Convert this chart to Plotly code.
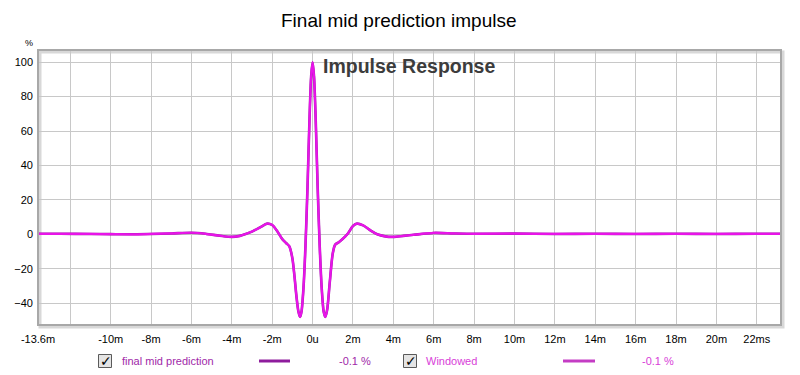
import plotly.graph_objects as go

# ---- data ----
time_ms = [-13.6, -12.5, -11.0, -10.0, -9.0, -8.0, -7.0, -6.0, -5.3, -4.6, -4.0, -3.6,
           -3.35, -3.0, -2.6, -2.25, -2.0, -1.75, -1.5, -1.3, -1.15, -1.0, -0.9, -0.8,
           -0.7, -0.62, -0.55, -0.45, -0.35, -0.25, -0.15, -0.07, 0.0, 0.07, 0.15,
           0.25, 0.35, 0.45, 0.55, 0.63, 0.72, 0.85, 1.0, 1.12, 1.3, 1.5, 1.75, 2.0,
           2.2, 2.5, 2.9, 3.2, 3.6, 4.0, 4.5, 5.0, 6.0, 7.0, 8.0, 10.0, 12.0, 14.0,
           16.0, 18.0, 20.0, 22.0, 23.2]
final_mid_pct = [0.3, 0.3, 0.2, 0.1, 0.0, 0.2, 0.5, 0.9, 0.3, -0.8, -1.5, -0.9,
                 0.0, 1.6, 4.0, 6.2, 5.4, 1.8, -2.8, -5.2, -7.0, -14.0, -24.0, -36.0,
                 -45.0, -48.0, -45.0, -31.0, -6.0, 28.0, 68.0, 92.0, 100.0, 92.0, 68.0,
                 28.0, -6.0, -31.0, -45.0, -48.0, -44.0, -28.0, -11.0, -6.0, -4.6, -2.6, 0.5, 4.8,
                 6.2, 5.2, 2.0, 0.0, -1.2, -1.5, -0.9, -0.3, 0.8, 0.5, 0.3, 0.4, 0.2, 0.3,
                 0.2, 0.3, 0.2, 0.3, 0.3]
windowed_pct = list(final_mid_pct)

x_tickvals = [-13.6, -12, -10, -8, -6, -4, -2, 0, 2, 4, 6, 8, 10, 12, 14, 16, 18, 20, 22]
x_ticktext = ["-13.6m", "", "-10m", "-8m", "-6m", "-4m", "-2m", "0u", "2m", "4m", "6m",
              "8m", "10m", "12m", "14m", "16m", "18m", "20m", "22ms"]
y_tickvals = [-40, -20, 0, 20, 40, 60, 80, 100]

series_names = ["final mid prediction", "Windowed"]
series_colors = ["#9a1ea6", "#e814e8"]
legend_line_colors = ["#8e1c9c", "#c43cc4"]
legend_text_colors = ["#a028a8", "#d840d8"]
legend_values = ["-0.1 %", "-0.1 %"]

# ---- figure ----
W, H = 800, 375
L, R, T, B = 38, 781, 50, 325


def px(x):
    return (x - L) / (R - L)


def py(y):
    return (B - y) / (B - T)


fig = go.Figure()
fig.add_trace(go.Scatter(x=time_ms, y=final_mid_pct, mode="lines",
                         line=dict(color=series_colors[0], width=2.6, shape="spline", smoothing=0.8),
                         name=series_names[0], hoverinfo="skip"))
fig.add_trace(go.Scatter(x=time_ms, y=windowed_pct, mode="lines",
                         line=dict(color=series_colors[1], width=2.2, shape="spline", smoothing=0.8),
                         name=series_names[1], hoverinfo="skip"))

axis_font = dict(family="Liberation Sans, Arial, sans-serif", size=11, color="#000000")
fig.update_xaxes(range=[-13.6, 23.2], tickvals=x_tickvals, ticktext=x_ticktext,
                 showgrid=True, gridcolor="#c8c8c8", gridwidth=1, zeroline=False,
                 ticks="", tickfont=axis_font, showline=False, automargin=False, ticklabelstandoff=6)
fig.update_yaxes(range=[-52.7, 107.1], tickvals=y_tickvals,
                 showgrid=True, gridcolor="#c8c8c8", gridwidth=1, zeroline=False,
                 ticks="", tickfont=axis_font, showline=False, automargin=False, ticklabelstandoff=4)

shapes = [
    # shadow
    dict(type="rect", xref="paper", yref="paper", x0=px(L + 2), x1=px(R + 2),
         y0=py(B + 2), y1=py(T + 2), line=dict(color="#d8d8d8", width=3), layer="below"),
    # border
    dict(type="rect", xref="paper", yref="paper", x0=0, x1=1, y0=0, y1=1,
         line=dict(color="#a8a8a8", width=2), layer="above"),
]

annotations = [
    dict(text="Final mid prediction impulse", xref="paper", yref="paper", x=px(399), y=py(21),
         showarrow=False, xanchor="center", yanchor="middle",
         font=dict(family="Liberation Sans, Arial, sans-serif", size=19, color="#000000")),
    dict(text="%", xref="paper", yref="paper", x=px(29), y=py(43), showarrow=False,
         xanchor="center", yanchor="middle",
         font=dict(family="Liberation Sans, Arial, sans-serif", size=9, color="#000000")),
    dict(text="<b>Impulse Response</b>", xref="paper", yref="paper", x=px(409), y=py(66),
         showarrow=False, xanchor="center", yanchor="middle",
         font=dict(family="Liberation Sans, Arial, sans-serif", size=19.5, color="#3c3c3c")),
]

legend_y = 361
legend_cfg = [
    dict(box=105, text=120, line0=259, line1=290, val=337),
    dict(box=410, text=424, line0=563, line1=595, val=640),
]
for i, cfg in enumerate(legend_cfg):
    shapes.append(dict(type="rect", xref="paper", yref="paper",
                       x0=px(cfg["box"] - 6.5), x1=px(cfg["box"] + 6.5),
                       y0=py(legend_y + 6.5), y1=py(legend_y - 6.5),
                       line=dict(color="#5a5a5a", width=1), fillcolor="#e4e4e4"))
    annotations.append(dict(text="<b>✓</b>", xref="paper", yref="paper", x=px(cfg["box"] + 0.5),
                            y=py(legend_y - 0.5), showarrow=False, xanchor="center",
                            yanchor="middle",
                            font=dict(family="DejaVu Sans", size=14, color="#000000")))
    annotations.append(dict(text=series_names[i], xref="paper", yref="paper", x=px(cfg["text"]),
                            y=py(legend_y), showarrow=False, xanchor="left", yanchor="middle",
                            font=dict(family="Liberation Sans, Arial, sans-serif", size=11,
                                      color=legend_text_colors[i])))
    shapes.append(dict(type="line", xref="paper", yref="paper", x0=px(cfg["line0"]),
                       x1=px(cfg["line1"]), y0=py(legend_y), y1=py(legend_y),
                       line=dict(color=legend_line_colors[i], width=3)))
    annotations.append(dict(text=legend_values[i], xref="paper", yref="paper", x=px(cfg["val"]),
                            y=py(legend_y), showarrow=False, xanchor="left", yanchor="middle",
                            font=dict(family="Liberation Sans, Arial, sans-serif", size=11,
                                      color=legend_text_colors[i])))

fig.update_layout(width=W, height=H, margin=dict(l=L, r=W - R, t=T, b=H - B),
                  paper_bgcolor="#ffffff", plot_bgcolor="#ffffff", showlegend=False,
                  shapes=shapes, annotations=annotations)

fig.write_html("out.html", config={"displayModeBar": False},
               post_script="document.body.style.margin='0';document.body.style.overflow='hidden';")
